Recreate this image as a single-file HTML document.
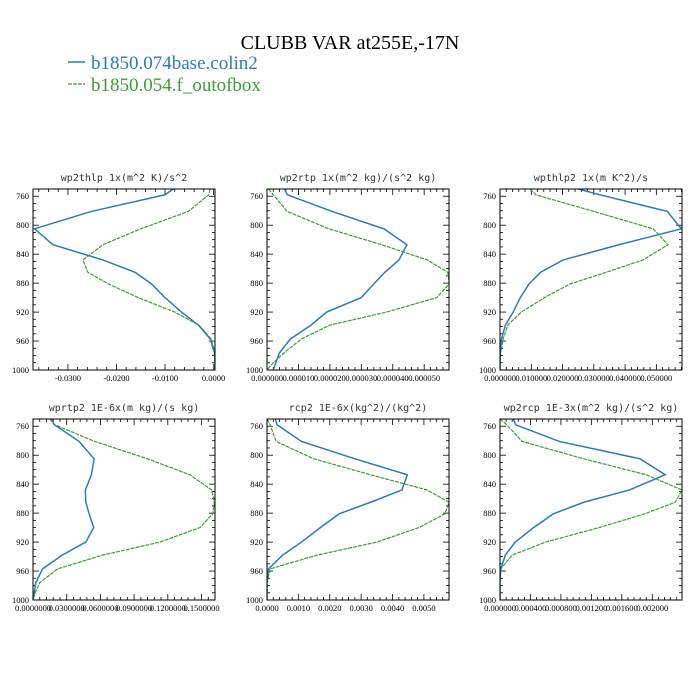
<!DOCTYPE html>
<html><head><meta charset="utf-8">
<style>
html,body{margin:0;padding:0;background:#fff;}
svg{display:block;}
.tl{font-family:"Liberation Serif",serif;font-size:8.5px;fill:#000;}
.pt{font-family:"DejaVu Sans Mono","Liberation Mono",monospace;font-size:10px;fill:#333;}
</style></head>
<body>
<svg id="fig" width="700" height="700" viewBox="0 0 700 700" xmlns="http://www.w3.org/2000/svg">
<text x="350" y="49" text-anchor="middle" font-family="Liberation Serif,serif" font-size="20">CLUBB VAR at255E,-17N</text>
<g>
<line x1="68" y1="62" x2="85" y2="62" stroke="#2a7bb6" stroke-width="1.5"/>
<text x="91" y="69" font-family="Liberation Serif,serif" font-size="19" fill="#2a7bb6">b1850.074base.colin2</text>
<line x1="68" y1="84" x2="85" y2="84" stroke="#3aa030" stroke-width="1.3" stroke-dasharray="4,1"/>
<text x="91" y="91" font-family="Liberation Serif,serif" font-size="19" fill="#3aa030">b1850.054.f_outofbox</text>
</g>
</svg>
<script>
const levels = [750,758,781,805,827,848,865,881,900,920,938,957,976,990,1000];
const yTicks = [760,800,840,880,920,960,1000];
const p1Base = [-0.0083,-0.0100,-0.0252,-0.0369,-0.0331,-0.0228,-0.0162,-0.0128,-0.0100,-0.0066,-0.0031,-0.0007,0.0002,0.0003,0.0003];
const p1Box  = [-0.0007,-0.0010,-0.0052,-0.0150,-0.0228,-0.0269,-0.0259,-0.0217,-0.0155,-0.0080,-0.0030,-0.0005,0.0003,0.0002,0];
const p2Base = [0.0000056,0.0000065,0.0000207,0.0000372,0.0000445,0.000042,0.0000375,0.000034,0.00003,0.000019,0.000014,0.0000075,0.000004,0.0000028,0.000002];
const p2Box  = [0.0000005,0.000002,0.0000064,0.0000197,0.0000365,0.000051,0.0000575,0.000058,0.000054,0.000038,0.00002,0.000011,0.0000055,0.000002,0];
const p3Base = [0.025,0.032,0.0535,0.058,0.038,0.0202,0.013,0.0093,0.0065,0.0042,0.0017,0.0005,0.0001,0,0];
const p3Box  = [0.0096,0.0115,0.03,0.049,0.0537,0.0457,0.034,0.0225,0.0142,0.0068,0.0025,0.001,0.0002,0,0];
const p4Base = [0.0163,0.019,0.041,0.0544,0.052,0.0466,0.047,0.05,0.054,0.047,0.026,0.0085,0.0025,0.001,0];
const p4Box  = [0.0149,0.0193,0.055,0.102,0.1396,0.159,0.1615,0.16,0.1485,0.113,0.062,0.022,0.006,0.002,0];
const p5Base = [0.00027,0.00032,0.0011,0.0028,0.00447,0.0043,0.0033,0.0023,0.0017,0.0011,0.0005,0.00005,0,0,0];
const p5Box  = [0,0.0001,0.00029,0.00149,0.0033,0.0051,0.0058,0.00567,0.00484,0.0035,0.0016,0.0001,0,0,0];
const p6Base = [0.000175,0.000205,0.00078,0.00184,0.00217,0.0017,0.0011,0.0007,0.00044,0.0002,0.00007,0.00001,0,0,0];
const p6Box  = [0,0.00009,0.00029,0.0011,0.00192,0.00239,0.0023,0.0019,0.0013,0.0006,0.00016,0.00001,0,0,0];
const p1Ticks = [-0.03,-0.02,-0.01,0], p1Labels = ["-0.0300","-0.0200","-0.0100","0.0000"];
const p2Ticks = [0,0.00001,0.00002,0.00003,0.00004,0.00005], p2Labels = ["0.000000","0.000010","0.000020","0.000030","0.000040","0.000050"];
const p3Ticks = [0,0.01,0.02,0.03,0.04,0.05], p3Labels = ["0.000000","0.010000","0.020000","0.030000","0.040000","0.050000"];
const p4Ticks = [0,0.03,0.06,0.09,0.12,0.15], p4Labels = ["0.0000000","0.0300000","0.0600000","0.0900000","0.1200000","0.1500000"];
const p5Ticks = [0,0.001,0.002,0.003,0.004,0.005], p5Labels = ["0.0000","0.0010","0.0020","0.0030","0.0040","0.0050"];
const p6Ticks = [0,0.0004,0.0008,0.0012,0.0016,0.002], p6Labels = ["0.000000","0.000400","0.000800","0.001200","0.001600","0.002000"];

const NS = "http://www.w3.org/2000/svg";
const fig = document.getElementById('fig');
function mk(tag, attrs, parent){const e=document.createElementNS(NS,tag);for(const k in attrs)e.setAttribute(k,attrs[k]);parent.appendChild(e);return e;}

const panels = [
 {id:'wp2thlp',title:'wp2thlp  1x(m^2 K)/s^2',x:33,y:189,xmin:-0.0372,xmax:0.0003,base:p1Base,box:p1Box,ticks:p1Ticks,labels:p1Labels},
 {id:'wp2rtp',title:'wp2rtp  1x(m^2 kg)/(s^2 kg)',x:267,y:189,xmin:0,xmax:0.0000579,base:p2Base,box:p2Box,ticks:p2Ticks,labels:p2Labels},
 {id:'wpthlp2',title:'wpthlp2  1x(m K^2)/s',x:500,y:189,xmin:0,xmax:0.0582,base:p3Base,box:p3Box,ticks:p3Ticks,labels:p3Labels},
 {id:'wprtp2',title:'wprtp2  1E-6x(m kg)/(s kg)',x:33,y:419,xmin:0,xmax:0.162,base:p4Base,box:p4Box,ticks:p4Ticks,labels:p4Labels},
 {id:'rcp2',title:'rcp2  1E-6x(kg^2)/(kg^2)',x:267,y:419,xmin:0,xmax:0.0058,base:p5Base,box:p5Box,ticks:p5Ticks,labels:p5Labels},
 {id:'wp2rcp',title:'wp2rcp  1E-3x(m^2 kg)/(s^2 kg)',x:500,y:419,xmin:0,xmax:0.00239,base:p6Base,box:p6Box,ticks:p6Ticks,labels:p6Labels}
];
const W=182,H=181,PMIN=750,PMAX=1000;
panels.forEach(function(p,i){
 const g=mk('g',{},fig);
 
 
 const sx=v=>p.x+(v-p.xmin)/(p.xmax-p.xmin)*W;
 const sy=v=>p.y+(v-PMIN)/(PMAX-PMIN)*H;
 const t=mk('text',{x:p.x+W/2,y:p.y-8,'text-anchor':'middle','class':'pt','xml:space':'preserve'},g);
 t.textContent=p.title;
 
 
 const cp=mk('clipPath',{id:'c'+i},g);
 mk('rect',{x:p.x,y:p.y,width:W,height:H},cp);
 // y ticks
 for(let v=750;v<=1000;v+=10){
  const yy=sy(v),major=(v%40===0&&v>=760)||v===1000;
  const L=major?6:3;
  const a=mk('line',{x1:p.x,y1:yy,x2:p.x+L,y2:yy,stroke:'#000','stroke-width':0.8},g);
  
  const b=mk('line',{x1:p.x+W,y1:yy,x2:p.x+W-L,y2:yy,stroke:'#000','stroke-width':0.8},g);
  
 }
 yTicks.forEach(function(v){
  const tx=mk('text',{x:p.x-4,y:sy(v)+3,'text-anchor':'end','class':'tl'},g);
  tx.textContent=String(v);
  
  
 });
 // x ticks
 const step=p.ticks[1]-p.ticks[0];
 const minor=step/5;
 const start=Math.ceil((p.xmin-1e-12)/minor);
 for(let k=start;p.xmin+0 <= k*minor && k*minor<=p.xmax+1e-12;k++){
  const v=k*minor,xx=sx(v);
  const major=Math.abs(Math.round(k/5)*5-k)<1e-6;
  const L=major?6:3;
  const a=mk('line',{x1:xx,y1:p.y+H,x2:xx,y2:p.y+H-L,stroke:'#000','stroke-width':0.8},g);
  
  const b=mk('line',{x1:xx,y1:p.y,x2:xx,y2:p.y+L,stroke:'#000','stroke-width':0.8},g);
  
 }
 p.ticks.forEach(function(v,j){
  const tx=mk('text',{x:sx(v),y:p.y+H+11,'text-anchor':'middle','class':'tl'},g);
  tx.textContent=p.labels[j];
  
  
 });
 const pts=arr=>arr.map((v,j)=>sx(v).toFixed(2)+','+sy(levels[j]).toFixed(2)).join(' ');
 const gl=mk('polyline',{points:pts(p.box),fill:'none',stroke:'#3aa030','stroke-width':1.2,'stroke-dasharray':'4,1','clip-path':'url(#c'+i+')'},g);
 
 
 const bl=mk('polyline',{points:pts(p.base),fill:'none',stroke:'#2a7bb6','stroke-width':1.5,'clip-path':'url(#c'+i+')'},g);
 
 
 const fr=mk('rect',{x:p.x,y:p.y,width:W,height:H,fill:'none',stroke:'#000','stroke-width':1},g);
 
 
});
</script>
</body></html>
